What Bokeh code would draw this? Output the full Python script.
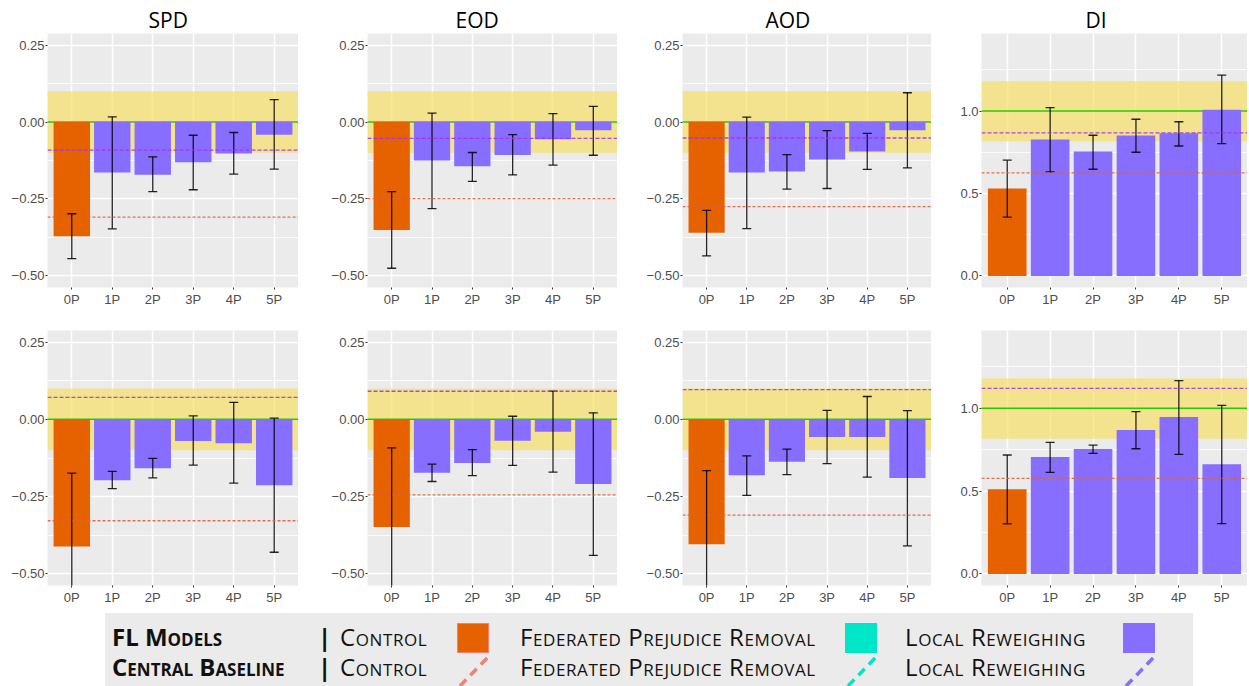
from bokeh.plotting import figure
from bokeh.layouts import column, row
from bokeh.models import Range1d, FixedTicker, BoxAnnotation, Span, Div, ColumnDataSource
from bokeh.embed import file_html
from bokeh.resources import INLINE

# ---------------- data ----------------
categories = ["0P", "1P", "2P", "3P", "4P", "5P"]
model_group = ["Control", "Local Reweighing", "Local Reweighing", "Local Reweighing",
               "Local Reweighing", "Local Reweighing"]
metrics = ["SPD", "EOD", "AOD", "DI"]

# Row 1
spd_a_val = [-0.371, -0.164, -0.171, -0.131, -0.102, -0.041]
spd_a_hi = [-0.298, 0.017, -0.113, -0.043, -0.034, 0.073]
spd_a_lo = [-0.444, -0.347, -0.226, -0.220, -0.169, -0.153]
spd_a_cb = {"Local Reweighing": -0.091, "Control": -0.309}

eod_a_val = [-0.351, -0.125, -0.144, -0.107, -0.056, -0.027]
eod_a_hi = [-0.226, 0.029, -0.099, -0.041, 0.027, 0.051]
eod_a_lo = [-0.475, -0.281, -0.193, -0.172, -0.140, -0.108]
eod_a_cb = {"Local Reweighing": -0.053, "Control": -0.249}

aod_a_val = [-0.360, -0.164, -0.161, -0.122, -0.096, -0.027]
aod_a_hi = [-0.287, 0.016, -0.106, -0.028, -0.037, 0.095]
aod_a_lo = [-0.435, -0.346, -0.218, -0.216, -0.154, -0.149]
aod_a_cb = {"Local Reweighing": -0.052, "Control": -0.275}

di_a_val = [0.530, 0.827, 0.754, 0.851, 0.865, 1.008]
di_a_hi = [0.702, 1.020, 0.853, 0.950, 0.935, 1.218]
di_a_lo = [0.357, 0.631, 0.647, 0.750, 0.788, 0.802]
di_a_cb = {"Local Reweighing": 0.867, "Control": 0.625}

# Row 2
spd_b_val = [-0.411, -0.197, -0.158, -0.070, -0.077, -0.213]
spd_b_hi = [-0.174, -0.168, -0.126, 0.011, 0.055, 0.004]
spd_b_lo = [-0.648, -0.224, -0.189, -0.148, -0.206, -0.430]
spd_b_cb = {"Local Reweighing": 0.071, "Control": -0.328}

eod_b_val = [-0.348, -0.173, -0.141, -0.069, -0.040, -0.209]
eod_b_hi = [-0.092, -0.145, -0.098, 0.010, 0.091, 0.021]
eod_b_lo = [-0.604, -0.201, -0.182, -0.149, -0.171, -0.440]
eod_b_cb = {"Local Reweighing": 0.091, "Control": -0.244}

aod_b_val = [-0.404, -0.181, -0.137, -0.057, -0.057, -0.190]
aod_b_hi = [-0.166, -0.118, -0.096, 0.029, 0.074, 0.028]
aod_b_lo = [-0.642, -0.246, -0.179, -0.143, -0.187, -0.409]
aod_b_cb = {"Local Reweighing": 0.096, "Control": -0.310}

di_b_val = [0.512, 0.706, 0.754, 0.869, 0.948, 0.663]
di_b_hi = [0.718, 0.794, 0.778, 0.980, 1.167, 1.018]
di_b_lo = [0.302, 0.613, 0.728, 0.756, 0.722, 0.304]
di_b_cb = {"Local Reweighing": 1.121, "Control": 0.577}

# fairness reference value and tolerance band per metric
fair_value = {"SPD": 0.0, "EOD": 0.0, "AOD": 0.0, "DI": 1.0}
fair_band = {"SPD": (-0.1, 0.1), "EOD": (-0.1, 0.1), "AOD": (-0.1, 0.1), "DI": (0.817, 1.18)}

diff_ticks = [-0.5, -0.25, 0.0, 0.25]
diff_labels = ["\u22120.50", "\u22120.25", "0.00", "0.25"]
diff_minor = [-0.375, -0.125, 0.125]
di_ticks = [0.0, 0.5, 1.0]
di_labels = ["0.0", "0.5", "1.0"]
di_minor = [0.25, 0.75, 1.25]
diff_limits = (-0.5, 0.25)
di_limits = (0.0, 1.4)

# ---------------- styles ----------------
bar_color = {"Control": "#E66100", "Federated Prejudice Removal": "#00E6C8", "Local Reweighing": "#876EFF"}
cb_color = {"Control": "#E0603F", "Local Reweighing": "#A632EE"}
cb_dash = {"Control": "3 2", "Local Reweighing": "4 2"}
FONT = "Liberation Sans"

frame_w = [251, 250, 249, 266]
left_b = [47, 69, 65, 50]
title_off = [101, 88, 83, 104]


def panel(ci, title, vals, lo, hi, cb, row_i):
    metric = metrics[ci]
    lim = di_limits if metric == "DI" else diff_limits
    pad = (lim[1] - lim[0]) * 0.05
    xs = list(range(1, len(categories) + 1))
    if row_i == 0:
        fh, tb, bb = 254, 33, 20
    else:
        fh, tb, bb = 255, 21, 22
    p = figure(frame_width=frame_w[ci], frame_height=fh,
               x_range=Range1d(0.4, len(categories) + 0.6),
               y_range=Range1d(lim[0] - pad, lim[1] + pad),
               output_backend="svg", toolbar_location=None,
               min_border=0, min_border_left=left_b[ci], min_border_right=0,
               min_border_top=tb, min_border_bottom=bb,
               background_fill_color="#EBEBEB", border_fill_color="white",
               outline_line_color=None, title=title)
    if title:
        p.title.text_font = "Open Sans"
        p.title.text_font_size = "21px"
        p.title.text_font_style = "normal"
        p.title.text_color = "#000000"
        p.title.align = "left"
        p.title.offset = title_off[ci]
        p.title.standoff = 0

    if metric == "DI":
        ticks, labels, minor = di_ticks, di_labels, di_minor
    else:
        ticks, labels, minor = diff_ticks, diff_labels, diff_minor

    # axes
    p.xaxis.ticker = FixedTicker(ticks=xs)
    p.xaxis.major_label_overrides = {x: c for x, c in zip(xs, categories)}
    p.yaxis.ticker = FixedTicker(ticks=ticks, minor_ticks=minor)
    p.yaxis.major_label_overrides = {t: l for t, l in zip(ticks, labels)}
    for ax in (p.xaxis[0], p.yaxis[0]):
        ax.axis_line_color = None
        ax.major_tick_out = 2
        ax.major_tick_in = 0
        ax.minor_tick_out = 0
        ax.minor_tick_in = 0
        ax.major_tick_line_color = "#333333"
        ax.major_label_text_color = "#4D4D4D"
        ax.major_label_text_font = FONT
        ax.major_label_text_font_size = "13px"
        ax.major_label_standoff = 2
    p.yaxis.major_label_standoff = 1

    # grid
    p.xgrid.ticker = FixedTicker(ticks=xs)
    p.ygrid.ticker = FixedTicker(ticks=ticks, minor_ticks=minor)
    for g in (p.xgrid[0], p.ygrid[0]):
        g.grid_line_color = "white"
        g.grid_line_width = 1.5
    p.ygrid.minor_grid_line_color = "white"
    p.ygrid.minor_grid_line_width = 0.8

    # fairness band & reference line
    b0, b1 = fair_band[metric]
    p.add_layout(BoxAnnotation(bottom=b0, top=b1, fill_color="#F6E068", fill_alpha=0.7,
                               line_color=None, level="underlay"))
    p.add_layout(Span(location=fair_value[metric], dimension="width",
                      line_color="#22CC00", line_width=1.5, level="underlay"))

    src = ColumnDataSource(dict(x=xs, val=vals, lo=lo, hi=hi,
                                color=[bar_color[g] for g in model_group]))
    p.vbar(x="x", top="val", bottom=0, width=0.9, fill_color="color", line_color=None, source=src)

    # central baselines
    for grp, yv in cb.items():
        p.add_layout(Span(location=yv, dimension="width", line_color=cb_color[grp],
                          line_width=1.3, line_dash=cb_dash[grp], line_alpha=0.9))

    # error bars
    p.segment(x0="x", y0="lo", x1="x", y1="hi", line_color="black", line_width=1.3,
              line_alpha=0.85, source=src)
    p.dash(x="x", y="lo", size=9, line_color="black", line_width=1.3, line_alpha=0.85, source=src)
    p.dash(x="x", y="hi", size=9, line_color="black", line_width=1.3, line_alpha=0.85, source=src)
    return p


row1_data = [(spd_a_val, spd_a_lo, spd_a_hi, spd_a_cb), (eod_a_val, eod_a_lo, eod_a_hi, eod_a_cb),
             (aod_a_val, aod_a_lo, aod_a_hi, aod_a_cb), (di_a_val, di_a_lo, di_a_hi, di_a_cb)]
row2_data = [(spd_b_val, spd_b_lo, spd_b_hi, spd_b_cb), (eod_b_val, eod_b_lo, eod_b_hi, eod_b_cb),
             (aod_b_val, aod_b_lo, aod_b_hi, aod_b_cb), (di_b_val, di_b_lo, di_b_hi, di_b_cb)]

r1 = [panel(i, metrics[i], *d, 0) for i, d in enumerate(row1_data)]
r2 = [panel(i, None, *d, 1) for i, d in enumerate(row2_data)]

# ---------------- legend ----------------
legend_rows = ["FL Models", "Central Baseline"]
legend_items = ["Control", "Federated Prejudice Removal", "Local Reweighing"]
legend_line_color = {"Control": "#F47F72", "Federated Prejudice Removal": "#00E6C8",
                     "Local Reweighing": "#876EFF"}

text_style = ("position:absolute;white-space:nowrap;line-height:1;transform:translateY(-50%);"
              "font-family:'Open Sans';font-variant:small-caps;font-size:24px;color:#111;")
item_x = [340, 520, 905]
swatch_x = [457, 845, 1123]
row_y = [30, 60]
parts = ['<div style="position:absolute;left:105px;top:6px;width:1088px;height:75px;background:#EBEBEB;"></div>']
for ri, lab in enumerate(legend_rows):
    parts.append(f'<span style="{text_style}left:112px;top:{row_y[ri]}px;font-weight:bold;">{lab}</span>')
    parts.append(f'<span style="{text_style}left:318px;top:{row_y[ri]}px;font-weight:bold;">|</span>')
    for ii, it in enumerate(legend_items):
        parts.append(f'<span style="{text_style}left:{item_x[ii]}px;top:{row_y[ri]}px;'
                     f'letter-spacing:0.6px;">{it}</span>')
for ii, it in enumerate(legend_items):
    sx = swatch_x[ii]
    border = "border:1px solid #F47F72;" if it == "Control" else ""
    parts.append(f'<div style="position:absolute;left:{sx}px;top:16px;width:32px;height:30px;'
                 f'box-sizing:border-box;background:{bar_color[it]};{border}"></div>')
    parts.append(f'<svg style="position:absolute;left:{sx}px;top:48px;" width="34" height="33">'
                 f'<line x1="3" y1="31" x2="31" y2="2" stroke="{legend_line_color[it]}" '
                 f'stroke-width="3.5" stroke-dasharray="9 6"/></svg>')

legend_html = '<div style="position:relative;width:1200px;height:81px;">' + "".join(parts) + "</div>"
legend = Div(text=legend_html, width=1200, height=81, margin=(0, 0, 0, 0))

layout = column(row(*r1), row(*r2), legend)
open("out.html", "w").write(file_html(layout, INLINE))
